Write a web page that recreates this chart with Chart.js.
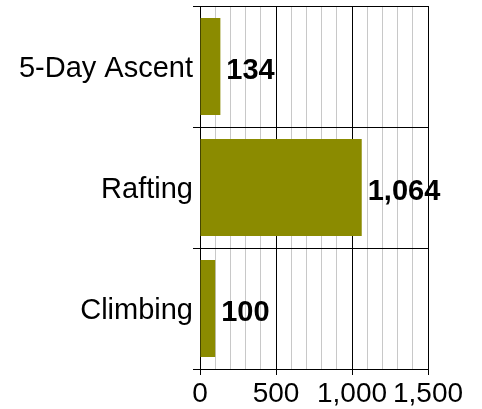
<!DOCTYPE html>
<html>
<head>
<meta charset="utf-8">
<script src="https://cdn.jsdelivr.net/npm/chart.js@4/dist/chart.umd.min.js"></script>
<style>
  html, body { margin: 0; padding: 0; background: #fff; }
  #wrap { width: 482px; height: 409px; }
</style>
</head>
<body>
<div id="wrap"><canvas id="activityChart"></canvas></div>
<script>
var categories = ['5-Day Ascent', 'Rafting', 'Climbing'];
var participants = [134, 1064, 100];
var xMax = 1500;
var majorStep = 500;
var minorStep = 100;

var FONT = "'Liberation Sans', Arial, sans-serif";

// draws the bold value next to the end of each bar
var barValueLabels = {
  id: 'barValueLabels',
  afterDatasetsDraw: function (chart) {
    var ctx = chart.ctx;
    var meta = chart.getDatasetMeta(0);
    ctx.save();
    ctx.font = 'bold 29px ' + FONT;
    ctx.fillStyle = '#000';
    ctx.textAlign = 'left';
    ctx.textBaseline = 'middle';
    meta.data.forEach(function (bar, i) {
      ctx.fillText(participants[i].toLocaleString('en-US'), bar.x + 6, bar.y + 4);
    });
    ctx.restore();
  }
};

var ctx = document.getElementById('activityChart').getContext('2d');
var chart = new Chart(ctx, {
  type: 'bar',
  data: {
    labels: categories,
    datasets: [{
      data: participants,
      backgroundColor: '#8b8b00',
      borderWidth: 0,
      barPercentage: 0.8,
      categoryPercentage: 1.0
    }]
  },
  options: {
    indexAxis: 'y',
    responsive: true,
    maintainAspectRatio: false,
    animation: false,
    layout: { padding: { top: 6, right: 54, left: 0, bottom: 0 } },
    plugins: {
      legend: { display: false },
      tooltip: { enabled: false }
    },
    scales: {
      x: {
        min: 0,
        max: xMax,
        border: { display: true, color: '#000', width: 1 },
        grid: {
          color: function (c) {
            return c.tick && c.tick.value % majorStep === 0 ? '#000' : '#c8c8c8';
          },
          tickColor: function (c) {
            return c.tick && c.tick.value % majorStep === 0 ? '#000' : 'rgba(0,0,0,0)';
          },
          tickLength: 6,
          lineWidth: 1
        },
        ticks: {
          stepSize: minorStep,
          autoSkip: false,
          maxRotation: 0,
          padding: 2,
          color: '#000',
          font: { family: FONT, size: 28 },
          callback: function (v) {
            return v % majorStep === 0 ? v.toLocaleString('en-US') : '';
          }
        },
        afterFit: function (scale) { scale.height = 40; }
      },
      y: {
        border: { display: true, color: '#000', width: 1 },
        grid: {
          color: '#000',
          offset: true,
          tickLength: 7,
          lineWidth: 1
        },
        ticks: {
          padding: 0,
          labelOffset: 2,
          color: '#000',
          font: { family: FONT, size: 29 }
        },
        afterFit: function (scale) {
          scale.width = 200;
          scale.paddingTop = 0;
          scale.paddingBottom = 0;
        }
      }
    }
  },
  plugins: [barValueLabels]
});
</script>
</body>
</html>
